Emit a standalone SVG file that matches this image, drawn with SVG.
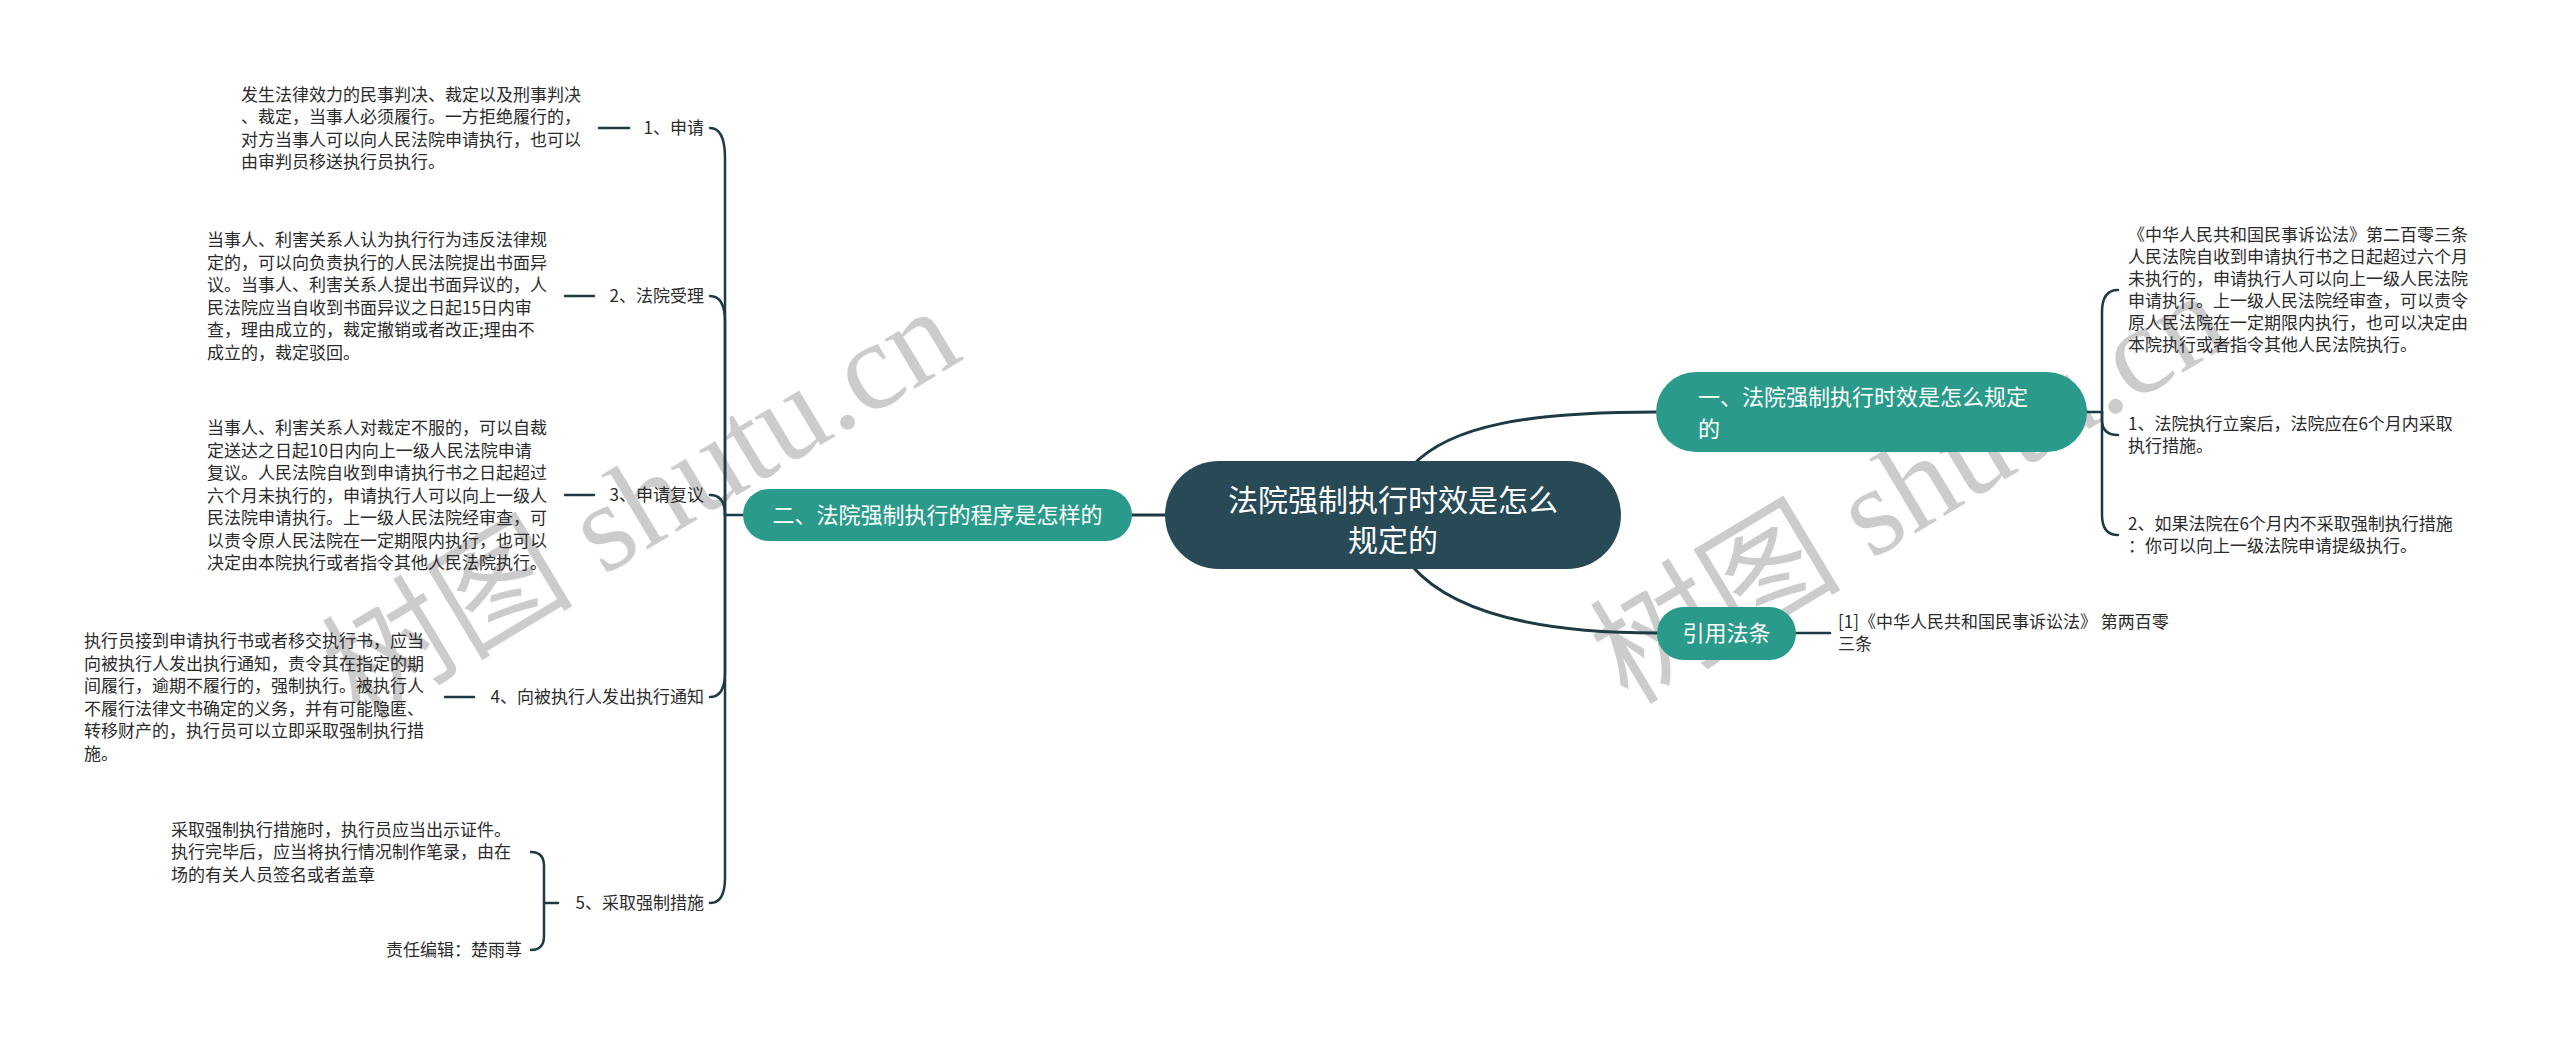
<svg xmlns="http://www.w3.org/2000/svg" width="2560" height="1047" viewBox="0 0 2560 1047">
<style>
.t{font-family:"Noto Sans CJK SC","Liberation Sans",sans-serif;font-size:17px;fill:#2b2b2b}
.lbl{font-family:"Noto Sans CJK SC","Liberation Sans",sans-serif;font-size:17px;fill:#2b2b2b;text-anchor:end}
.w{font-family:"Noto Sans CJK SC","Liberation Sans",sans-serif;fill:#ffffff}
.c{fill:none;stroke:#1e3a45;stroke-width:2.5;stroke-linecap:round}
.cm{fill:none;stroke:#1e3a45;stroke-width:3;stroke-linecap:round}
.wm{font-family:"Liberation Serif","Noto Sans CJK SC",serif;font-size:126px;fill:#000;fill-opacity:0.2}
</style>
<rect width="2560" height="1047" fill="#ffffff"/>
<g id="watermarks">
<text class="wm" transform="translate(360,722) rotate(-31)">树图 shutu.cn</text>
<text class="wm" transform="translate(1628,706) rotate(-31)">树图 shutu.cn</text>
</g>
<g id="connectors">
<path class="cm" d="M1165,515 L1132,515"/>
<path class="cm" d="M1412,466 C1450,425 1530,412 1656,412"/>
<path class="cm" d="M1412,566 C1450,610 1530,633 1657,633"/>
<path class="c" d="M743,515 L725,515"/>
<path class="c" d="M725,515 L725,158 Q725,128 710,128"/>
<path class="c" d="M725,515 L725,322 Q725,296 710,296"/>
<path class="c" d="M725,515 Q725,495 710,495"/>
<path class="c" d="M725,515 L725,672 Q725,697 710,697"/>
<path class="c" d="M725,515 L725,878 Q725,903 710,903"/>
<path class="c" d="M599,128 L629,128"/>
<path class="c" d="M565,296 L594,296"/>
<path class="c" d="M565,495 L594,495"/>
<path class="c" d="M445,697 L474,697"/>
<path class="c" d="M558,903 L544,903"/>
<path class="c" d="M531,852 Q544,852 544,866 L544,936 Q544,950 531,950"/>
<path class="c" d="M2087,412 L2102,412"/>
<path class="c" d="M2102,412 L2102,312 Q2102,290 2118,290"/>
<path class="c" d="M2102,412 L2102,420 Q2102,435 2118,435"/>
<path class="c" d="M2102,412 L2102,515 Q2102,535 2118,535"/>
<path class="c" d="M1796,633 L1830,633"/>
</g>
<g id="center">
<rect x="1165" y="461" width="456" height="108" rx="54" fill="#274a56"/>
<text class="w" font-size="30" text-anchor="middle"><tspan x="1393" y="511">法院强制执行时效是怎么</tspan><tspan x="1393" y="551">规定的</tspan></text>
</g>
<g id="branch-left">
<rect x="743" y="489" width="389" height="52" rx="26" fill="#2a9b8b"/>
<text class="w" font-size="22" text-anchor="middle" x="937.5" y="523">二、法院强制执行的程序是怎样的</text>
</g>
<g id="branch-right">
<rect x="1656" y="372" width="431" height="80" rx="40" fill="#2a9b8b"/>
<text class="w" font-size="22"><tspan x="1698" y="405">一、法院强制执行时效是怎么规定</tspan><tspan x="1698" y="437">的</tspan></text>
</g>
<g id="branch-ref">
<rect x="1657" y="607" width="139" height="53" rx="26.5" fill="#2a9b8b"/>
<text class="w" font-size="22" text-anchor="middle" x="1726.5" y="641">引用法条</text>
</g>
<g id="item1">
<text class="lbl" x="704" y="134">1、申请</text>
<text class="t"><tspan x="241" y="101">发生法律效力的民事判决、裁定以及刑事判决</tspan><tspan x="241" y="123">、裁定，当事人必须履行。一方拒绝履行的，</tspan><tspan x="241" y="146">对方当事人可以向人民法院申请执行，也可以</tspan><tspan x="241" y="168">由审判员移送执行员执行。</tspan></text>
</g>
<g id="item2">
<text class="lbl" x="704" y="302">2、法院受理</text>
<text class="t"><tspan x="207" y="246">当事人、利害关系人认为执行行为违反法律规</tspan><tspan x="207" y="269">定的，可以向负责执行的人民法院提出书面异</tspan><tspan x="207" y="291">议。当事人、利害关系人提出书面异议的，人</tspan><tspan x="207" y="314">民法院应当自收到书面异议之日起15日内审</tspan><tspan x="207" y="336">查，理由成立的，裁定撤销或者改正;理由不</tspan><tspan x="207" y="359">成立的，裁定驳回。</tspan></text>
</g>
<g id="item3">
<text class="lbl" x="704" y="501">3、申请复议</text>
<text class="t"><tspan x="207" y="434">当事人、利害关系人对裁定不服的，可以自裁</tspan><tspan x="207" y="457">定送达之日起10日内向上一级人民法院申请</tspan><tspan x="207" y="479">复议。人民法院自收到申请执行书之日起超过</tspan><tspan x="207" y="502">六个月未执行的，申请执行人可以向上一级人</tspan><tspan x="207" y="524">民法院申请执行。上一级人民法院经审查，可</tspan><tspan x="207" y="547">以责令原人民法院在一定期限内执行，也可以</tspan><tspan x="207" y="569">决定由本院执行或者指令其他人民法院执行。</tspan></text>
</g>
<g id="item4">
<text class="lbl" x="704" y="703">4、向被执行人发出执行通知</text>
<text class="t"><tspan x="84" y="647">执行员接到申请执行书或者移交执行书，应当</tspan><tspan x="84" y="670">向被执行人发出执行通知，责令其在指定的期</tspan><tspan x="84" y="692">间履行，逾期不履行的，强制执行。被执行人</tspan><tspan x="84" y="715">不履行法律文书确定的义务，并有可能隐匿、</tspan><tspan x="84" y="737">转移财产的，执行员可以立即采取强制执行措</tspan><tspan x="84" y="760">施。</tspan></text>
</g>
<g id="item5">
<text class="lbl" x="704" y="909">5、采取强制措施</text>
<text class="t"><tspan x="171" y="836">采取强制执行措施时，执行员应当出示证件。</tspan><tspan x="171" y="858">执行完毕后，应当将执行情况制作笔录，由在</tspan><tspan x="171" y="881">场的有关人员签名或者盖章</tspan></text>
<text class="lbl" x="522" y="956">责任编辑：楚雨荨</text>
</g>
<g id="right-items">
<text class="t"><tspan x="2128" y="241">《中华人民共和国民事诉讼法》第二百零三条</tspan><tspan x="2128" y="263">人民法院自收到申请执行书之日起超过六个月</tspan><tspan x="2128" y="285">未执行的，申请执行人可以向上一级人民法院</tspan><tspan x="2128" y="307">申请执行。上一级人民法院经审查，可以责令</tspan><tspan x="2128" y="329">原人民法院在一定期限内执行，也可以决定由</tspan><tspan x="2128" y="351">本院执行或者指令其他人民法院执行。</tspan></text>
<text class="t"><tspan x="2128" y="430">1、法院执行立案后，法院应在6个月内采取</tspan><tspan x="2128" y="452">执行措施。</tspan></text>
<text class="t"><tspan x="2128" y="530">2、如果法院在6个月内不采取强制执行措施</tspan><tspan x="2128" y="552">：你可以向上一级法院申请提级执行。</tspan></text>
<text class="t"><tspan x="1838" y="628">[1]《中华人民共和国民事诉讼法》 第两百零</tspan><tspan x="1838" y="650">三条</tspan></text>
</g>
</svg>
